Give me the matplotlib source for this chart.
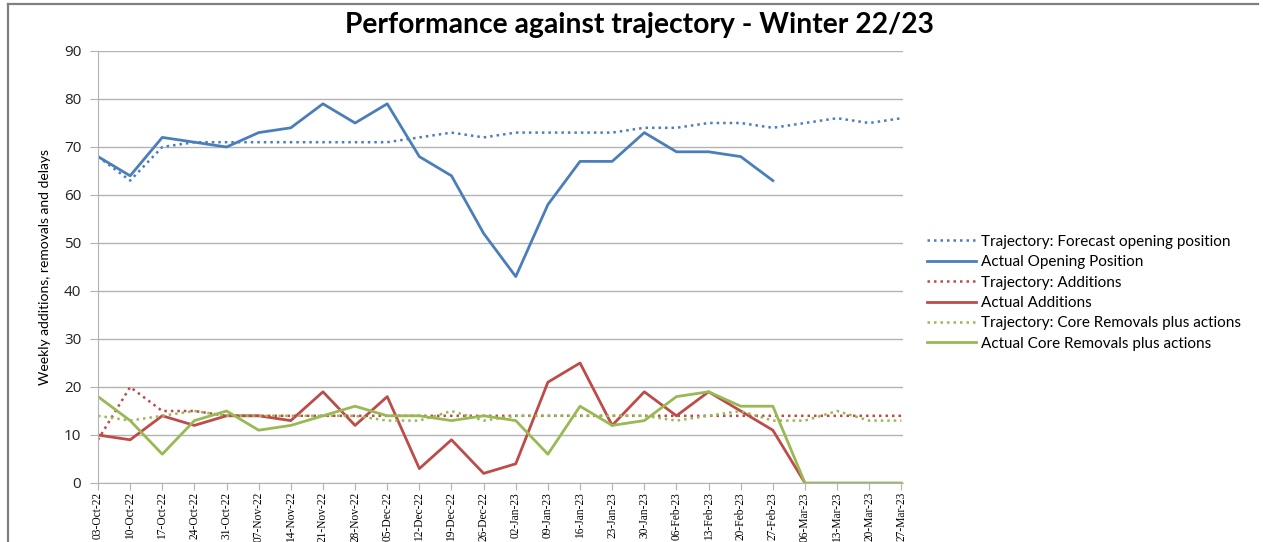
import matplotlib
matplotlib.use("Agg")
import matplotlib.pyplot as plt
from matplotlib.lines import Line2D
import numpy as np

weeks = ["03-Oct-22", "10-Oct-22", "17-Oct-22", "24-Oct-22", "31-Oct-22", "07-Nov-22",
         "14-Nov-22", "21-Nov-22", "28-Nov-22", "05-Dec-22", "12-Dec-22", "19-Dec-22",
         "26-Dec-22", "02-Jan-23", "09-Jan-23", "16-Jan-23", "23-Jan-23", "30-Jan-23",
         "06-Feb-23", "13-Feb-23", "20-Feb-23", "27-Feb-23", "06-Mar-23", "13-Mar-23",
         "20-Mar-23", "27-Mar-23"]

traj_opening = [68, 63, 70, 71, 71, 71, 71, 71, 71, 71, 72, 73, 72, 73, 73, 73, 73, 74,
                74, 75, 75, 74, 75, 76, 75, 76]
actual_opening = [68, 64, 72, 71, 70, 73, 74, 79, 75, 79, 68, 64, 52, 43, 58, 67, 67, 73,
                  69, 69, 68, 63, None, None, None, None]
traj_additions = [9, 20, 15, 15, 14, 14, 14, 14, 14, 14, 14, 14, 14, 14, 14, 14, 14, 14,
                  14, 14, 14, 14, 14, 14, 14, 14]
actual_additions = [10, 9, 14, 12, 14, 14, 13, 19, 12, 18, 3, 9, 2, 4, 21, 25, 12, 19,
                    14, 19, 15, 11, 0, None, None, None]
traj_removals = [14, 13, 14, 15, 14, 14, 14, 14, 14, 13, 13, 15, 13, 14, 14, 14, 14, 14,
                 13, 14, 15, 13, 13, 15, 13, 13]
actual_removals = [18, 13, 6, 13, 15, 11, 12, 14, 16, 14, 14, 13, 14, 13, 6, 16, 12, 13,
                   18, 19, 16, 16, 0, 0, 0, 0]

yticks = [0, 10, 20, 30, 40, 50, 60, 70, 80, 90]

blue = "#4A7EBB"
red = "#BE4B48"
green = "#98B954"


def arr(v):
    return np.array([np.nan if a is None else a for a in v], dtype=float)


fig = plt.figure(figsize=(12.63, 5.42), dpi=100)
ax = fig.add_axes([98 / 1263, 1 - 483 / 542, (903 - 98) / 1263, (483 - 51) / 542])

x = np.arange(len(weeks))
ax.plot(x, arr(traj_opening), color=blue, lw=1.8, ls=(0, (1, 1.6)),
        label="Trajectory: Forecast opening position")
ax.plot(x, arr(actual_opening), color=blue, lw=2.0, label="Actual Opening Position")
ax.plot(x, arr(traj_additions), color=red, lw=1.8, ls=(0, (1, 1.6)),
        label="Trajectory: Additions")
ax.plot(x, arr(actual_additions), color=red, lw=2.0, label="Actual Additions")
ax.plot(x, arr(traj_removals), color=green, lw=1.8, ls=(0, (1, 1.6)),
        label="Trajectory: Core Removals plus actions")
ax.plot(x, arr(actual_removals), color=green, lw=2.0,
        label="Actual Core Removals plus actions")

ax.set_xlim(0, len(weeks) - 1 + 0.05)
ax.set_ylim(0, 90)
ax.set_yticks(yticks)
ax.set_yticklabels([str(t) for t in yticks], fontsize=11, color="#222222",
                   family=["Open Sans", "DejaVu Sans"])
ax.set_xticks(x)
ax.set_xticklabels(weeks, rotation=90, fontsize=8.3,
                   family=["Liberation Serif", "DejaVu Serif"])
ax.grid(axis="y", color="#b3b3b3", lw=1.0)
ax.set_axisbelow(True)
for s in ["top", "right"]:
    ax.spines[s].set_visible(False)
ax.spines["left"].set_color("#b3b3b3")
ax.spines["bottom"].set_color("#b3b3b3")
ax.tick_params(axis="y", length=6, color="#b3b3b3", pad=6)
ax.tick_params(axis="x", length=5, color="#b3b3b3", pad=1.5)

ax.set_ylabel("Weekly additions, removals and delays", fontsize=10,
              family=["Lato", "DejaVu Sans"], labelpad=9)

fig.text(640 / 1263, 1 - 25 / 542, "Performance against trajectory - Winter 22/23",
         ha="center", va="center", fontsize=20.3, fontweight="bold",
         family=["Lato", "DejaVu Sans"])

leg = fig.legend(loc="upper left", bbox_to_anchor=(913 / 1263, 1 - 221 / 542),
                 frameon=False, handlelength=3.2, labelspacing=0.42,
                 handletextpad=0.35, prop={"family": ["Lato", "DejaVu Sans"], "size": 11})

# chart frame lines (left and top)
fig.add_artist(Line2D([8 / 1263, 8 / 1263], [0, 1 - 4 / 542], color="#808080", lw=1.6,
                      transform=fig.transFigure))
fig.add_artist(Line2D([8 / 1263, 1258 / 1263], [1 - 4 / 542, 1 - 4 / 542], color="#808080",
                      lw=1.6, transform=fig.transFigure))

fig.savefig("out.png", dpi=100)
